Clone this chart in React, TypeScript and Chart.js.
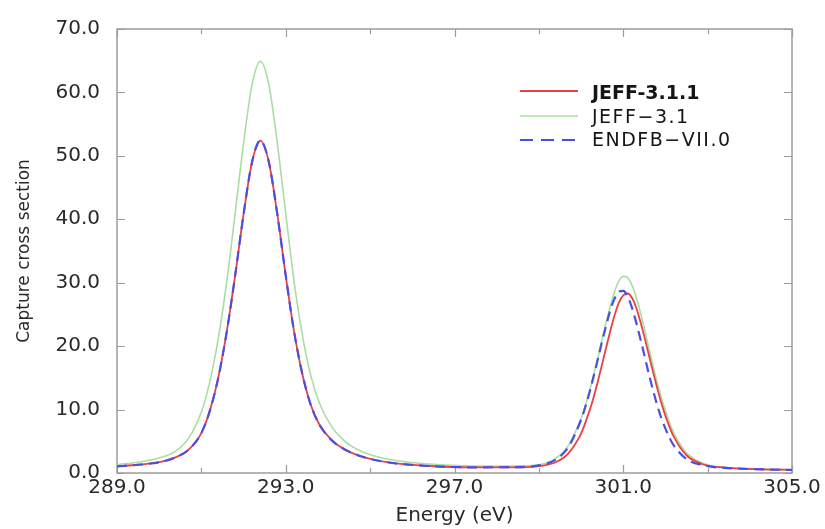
import React, { useEffect, useRef } from "react";
import { Chart, registerables } from "chart.js";

Chart.register(...registerables);

// Energy grid (eV)
const energy = [
  289.0, 289.5, 290.0, 290.4, 290.7, 291.0, 291.2, 291.4, 291.6, 291.8,
  292.0, 292.2, 292.4, 292.6, 292.8, 293.0, 293.2, 293.4, 293.6, 293.8,
  294.1, 294.4, 294.8, 295.4, 296.4, 297.4, 298.4, 299.0, 299.4, 299.7,
  300.0, 300.1, 300.2, 300.3, 300.4, 300.5, 300.6, 300.7, 300.8, 300.9,
  301.0, 301.1, 301.2, 301.3, 301.4, 301.5, 301.6, 301.7, 301.8, 301.9,
  302.0, 302.1, 302.2, 302.5, 302.9, 303.4, 304.1, 305.0,
];

// JEFF-3.1.1 capture cross section
const jeff311 = [
  1.03, 1.3, 1.7, 2.5, 3.7, 6.3, 9.8, 15.0, 22.2, 31.1,
  40.8, 49.0, 52.4, 49.0, 40.8, 31.1, 22.2, 15.4, 10.6, 7.6,
  5.1, 3.7, 2.6, 1.7, 1.1, 0.88, 0.88, 1.09, 1.7, 3.1,
  6.2, 7.9, 9.8, 12.0, 14.5, 17.2, 19.9, 22.6, 25.0, 26.9,
  28.0, 28.3, 27.7, 26.2, 24.0, 21.5, 18.8, 16.1, 13.5, 11.1,
  9.0, 7.2, 5.7, 2.8, 1.34, 0.85, 0.62, 0.5,
];

// JEFF-3.1 capture cross section
const jeff31 = [
  1.34, 1.7, 2.35, 3.5, 5.5, 9.6, 14.4, 21.2, 30.1, 40.9,
  52.0, 61.2, 64.9, 61.2, 52.0, 40.9, 30.1, 21.5, 15.2, 11.0,
  7.2, 5.0, 3.4, 2.2, 1.4, 1.1, 1.08, 1.3, 2.3, 4.35,
  8.6, 10.6, 12.9, 15.5, 18.2, 21.1, 23.9, 26.5, 28.7, 30.3,
  31.0, 30.8, 29.7, 27.9, 25.5, 22.8, 19.9, 17.1, 14.4, 12.0,
  9.8, 7.9, 6.3, 3.2, 1.5, 0.9, 0.68, 0.55,
];

// ENDF/B-VII.0 capture cross section
const endfb70 = [
  1.03, 1.3, 1.7, 2.5, 3.7, 6.3, 9.8, 15.0, 22.2, 31.1,
  40.8, 49.0, 52.4, 49.0, 40.8, 31.1, 22.2, 15.4, 10.6, 7.6,
  5.1, 3.7, 2.6, 1.7, 1.1, 0.9, 0.92, 1.2, 2.1, 4.1,
  8.4, 10.4, 12.7, 15.3, 18.0, 20.8, 23.4, 25.8, 27.6, 28.6,
  28.7, 27.9, 26.2, 23.9, 21.3, 18.6, 15.8, 13.2, 10.8, 8.7,
  7.0, 5.5, 4.3, 2.2, 1.2, 0.8, 0.6, 0.48,
];

const seriesNames = ["JEFF-3.1.1", "JEFF\u22123.1", "ENDFB\u2212VII.0"];
const xTitle = "Energy (eV)";
const yTitle = "Capture cross section";
const xMin = 289;
const xMax = 305;
const xMajorStep = 4;
const xMinorStep = 2;
const yMin = 0;
const yMax = 70;
const yStep = 10;

const RED = "#ec3f3f";
const GREEN = "#a9dea2";
const BLUE = "#4a4fe2";
const FONT = "'DejaVu Sans', sans-serif";

const framePlugin = {
  id: "frameTicks",
  beforeDatasetsDraw(chart: any) {
    const { ctx, chartArea } = chart;
    const xs = chart.scales.x;
    const ys = chart.scales.y;
    const { left, right, top, bottom } = chartArea;
    ctx.save();
    ctx.strokeStyle = "#9c9c9c";
    ctx.lineWidth = 1.5;
    ctx.strokeRect(left, top, right - left, bottom - top);
    ctx.lineWidth = 1.2;
    ctx.beginPath();
    for (let v = xs.min; v <= xs.max + 1e-9; v += xMinorStep) {
      const r = (v - xs.min) / xMajorStep;
      const major = Math.abs(r - Math.round(r)) < 1e-6;
      const len = major ? 8 : 5;
      const px = Math.round(xs.getPixelForValue(v)) + 0.5;
      ctx.moveTo(px, bottom);
      ctx.lineTo(px, bottom - len);
      ctx.moveTo(px, top);
      ctx.lineTo(px, top + len);
    }
    ys.ticks.forEach((t: any) => {
      const py = Math.round(ys.getPixelForValue(t.value)) + 0.5;
      ctx.moveTo(left, py);
      ctx.lineTo(left + 8, py);
      ctx.moveTo(right, py);
      ctx.lineTo(right - 8, py);
    });
    ctx.stroke();
    ctx.restore();
  },
};

const legendPlugin = {
  id: "insideLegend",
  afterDraw(chart: any) {
    const { ctx, chartArea } = chart;
    const x0 = chartArea.left + 403;
    const x1 = x0 + 58;
    const tx = x1 + 14;
    const rows = [
      { color: RED, width: 1.8, dash: [] as number[], y: chartArea.top + 62, ty: chartArea.top + 70, bold: true },
      { color: GREEN, width: 1.6, dash: [] as number[], y: chartArea.top + 87, ty: chartArea.top + 94, bold: false },
      { color: BLUE, width: 2.2, dash: [13, 8], y: chartArea.top + 111, ty: chartArea.top + 117, bold: false },
    ];
    ctx.save();
    rows.forEach((r, i) => {
      ctx.beginPath();
      ctx.strokeStyle = r.color;
      ctx.lineWidth = r.width;
      ctx.setLineDash(r.dash);
      ctx.moveTo(x0, r.y);
      ctx.lineTo(x1, r.y);
      ctx.stroke();
      ctx.setLineDash([]);
      ctx.fillStyle = "#151515";
      ctx.textAlign = "left";
      ctx.textBaseline = "alphabetic";
      if (r.bold) {
        ctx.font = `bold 19px ${FONT}`;
        (ctx as any).letterSpacing = "0px";
      } else {
        ctx.font = `19px ${FONT}`;
        (ctx as any).letterSpacing = "1.5px";
      }
      ctx.fillText(seriesNames[i], tx, r.ty);
    });
    (ctx as any).letterSpacing = "0px";
    ctx.restore();
  },
};

export default function App() {
  const ref = useRef<HTMLCanvasElement | null>(null);
  useEffect(() => {
    if (!ref.current) return;
    const mk = (arr: number[]) => energy.map((x, i) => ({ x, y: arr[i] }));
    const chart = new Chart(ref.current, {
      type: "line",
      data: {
        datasets: [
          {
            label: seriesNames[0],
            data: mk(jeff311),
            borderColor: RED,
            borderWidth: 1.8,
            pointRadius: 0,
            cubicInterpolationMode: "monotone",
            order: 2,
          },
          {
            label: seriesNames[1],
            data: mk(jeff31),
            borderColor: GREEN,
            borderWidth: 1.6,
            pointRadius: 0,
            cubicInterpolationMode: "monotone",
            order: 3,
          },
          {
            label: seriesNames[2],
            data: mk(endfb70),
            borderColor: BLUE,
            borderWidth: 2.2,
            borderDash: [10, 6],
            pointRadius: 0,
            cubicInterpolationMode: "monotone",
            order: 1,
          },
        ],
      },
      options: {
        animation: false,
        responsive: false,
        devicePixelRatio: 1,
        layout: { padding: { top: 15, right: 33, bottom: 0, left: 0 } },
        plugins: { legend: { display: false }, tooltip: { enabled: false } },
        scales: {
          x: {
            type: "linear",
            min: xMin,
            max: xMax,
            grid: { display: false, drawTicks: false },
            border: { display: false },
            ticks: {
              stepSize: xMajorStep,
              padding: 3,
              color: "#2a2a2a",
              font: { family: FONT, size: 20 },
              maxRotation: 0,
              callback: (v: any) => Number(v).toFixed(1),
            },
            title: {
              display: true,
              text: xTitle,
              color: "#2a2a2a",
              font: { family: FONT, size: 20 },
              padding: { top: 0, bottom: 1 },
            },
            afterFit: (s: any) => {
              s.height = 56;
            },
          },
          y: {
            type: "linear",
            min: yMin,
            max: yMax,
            grid: { display: false, drawTicks: false },
            border: { display: false },
            ticks: {
              stepSize: yStep,
              padding: 17,
              color: "#2a2a2a",
              font: { family: FONT, size: 20 },
              callback: (v: any) => Number(v).toFixed(1),
            },
            title: {
              display: true,
              text: yTitle,
              color: "#2a2a2a",
              font: { family: FONT, size: 17 },
              padding: { top: 14, bottom: 0 },
            },
            afterFit: (s: any) => {
              s.width = 117;
            },
          },
        },
      },
      plugins: [framePlugin, legendPlugin],
    } as any);
    return () => chart.destroy();
  }, []);
  return (
    <div style={{ position: "fixed", left: 0, top: 0, width: 825, height: 529, background: "#fff" }}>
      <canvas ref={ref} width={825} height={529} style={{ display: "block" }} />
    </div>
  );
}
